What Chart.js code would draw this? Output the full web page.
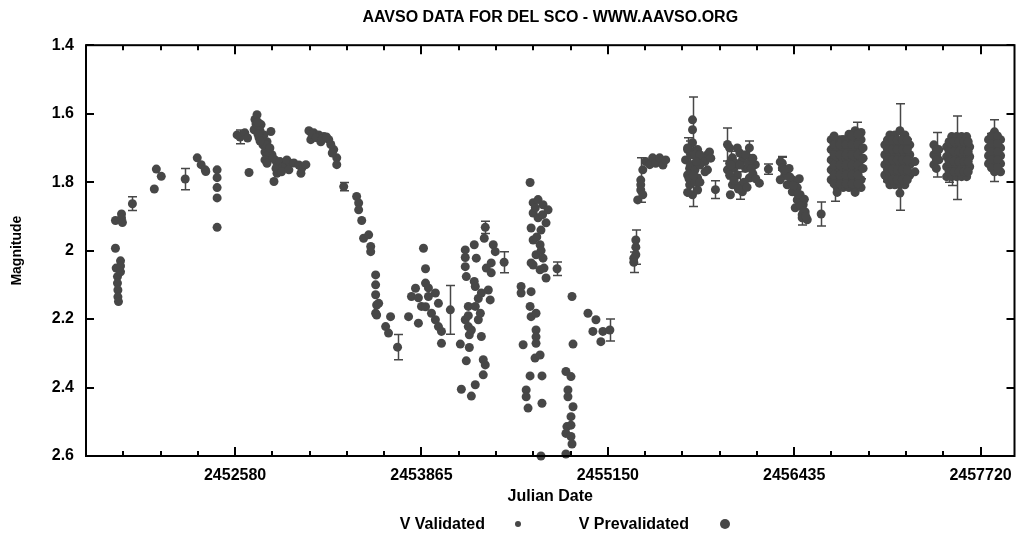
<!DOCTYPE html>
<html>
<head>
<meta charset="utf-8">
<title>AAVSO data for Del Sco</title>
<script src="https://cdn.jsdelivr.net/npm/chart.js@4.4.1/dist/chart.umd.min.js"></script>
<style>
  body { margin: 0; background: #fff; }
  #wrap { position: relative; width: 1019px; height: 534px; font: bold 16px "Liberation Sans", Arial, sans-serif; }
  .lbl { position: absolute; top: 514px; line-height: 20px; white-space: nowrap; }
  .dot { position: absolute; border-radius: 50%; background: #474747; }
</style>
</head>
<body>
<div id="wrap">
  <canvas id="chart" width="1019" height="534"></canvas>
  <span class="lbl" style="right:534px">V Validated</span>
  <div class="dot" style="left:515px;top:521px;width:6px;height:6px"></div>
  <span class="lbl" style="right:330px">V Prevalidated</span>
  <div class="dot" style="left:720px;top:519px;width:10px;height:10px"></div>
</div>
<script>
// Axis ticks
const xTicks = [2452580, 2453865, 2455150, 2456435, 2457720];
const yTicks = [1.4, 1.6, 1.8, 2, 2.2, 2.4, 2.6];
const X_MIN = 2451552, X_MAX = 2457954;
const X_MINOR_STEP = 257;
const POINT_COLOR = '#474747';

// Observations: [julian date, magnitude, error bar (optional)]
const validatedObs = [
  [2451755, 1.993], [2451755, 1.912], [2451760, 2.051], [2451769, 2.076], [2451769, 2.095], [2451772, 2.115],
  [2451772, 2.135], [2451776, 2.149], [2451790, 2.030], [2451790, 2.045], [2451790, 2.062], [2451797, 1.893],
  [2451797, 1.905], [2451803, 1.918], [2451872, 1.863, 0.02],
  [2452023, 1.820], [2452037, 1.762], [2452071, 1.783], [2452236, 1.791, 0.031],
  [2452319, 1.729], [2452346, 1.749], [2452374, 1.764], [2452378, 1.769],
  [2452456, 1.764], [2452456, 1.787], [2452456, 1.816], [2452456, 1.846], [2452456, 1.932],
  [2452594, 1.662], [2452614, 1.668, 0.02], [2452647, 1.656], [2452666, 1.671], [2452676, 1.772],
  [2452711, 1.647], [2452717, 1.617], [2452731, 1.603], [2452745, 1.670], [2452759, 1.632], [2452772, 1.691],
  [2452779, 1.662], [2452786, 1.712], [2452800, 1.682], [2452814, 1.705], [2452827, 1.652], [2452834, 1.720],
  [2452848, 1.798], [2452855, 1.735], [2452869, 1.744], [2452869, 1.774],
  [2452724, 1.630], [2452738, 1.625], [2452752, 1.650], [2452765, 1.675], [2452790, 1.690], [2452807, 1.720],
  [2452820, 1.700], [2452841, 1.730], [2452862, 1.760], [2452738, 1.660], [2452752, 1.680], [2452786, 1.735],
  [2452800, 1.745],
  [2452890, 1.740], [2452910, 1.755], [2452930, 1.750], [2452960, 1.745], [2452900, 1.770],
  [2452937, 1.735], [2452951, 1.764], [2452985, 1.744], [2453020, 1.750], [2453034, 1.774], [2453040, 1.759],
  [2453068, 1.749], [2453089, 1.650], [2453102, 1.676], [2453123, 1.656], [2453157, 1.662], [2453171, 1.682],
  [2453192, 1.667], [2453226, 1.676], [2453260, 1.705], [2453281, 1.729], [2453281, 1.749],
  [2453110, 1.660], [2453140, 1.670], [2453180, 1.675], [2453210, 1.668], [2453240, 1.690], [2453250, 1.715],
  [2453329, 1.813, 0.012], [2453418, 1.842], [2453432, 1.861], [2453432, 1.881], [2453453, 1.912],
  [2453466, 1.964], [2453501, 1.954], [2453515, 1.988], [2453515, 2.003],
  [2453549, 2.071], [2453549, 2.100], [2453549, 2.129], [2453549, 2.183], [2453556, 2.159], [2453556, 2.188],
  [2453570, 2.154], [2453618, 2.222], [2453638, 2.241], [2453652, 2.193], [2453700, 2.282, 0.037], [2453776, 2.193],
  [2453796, 2.134], [2453824, 2.110], [2453844, 2.138], [2453844, 2.212], [2453865, 2.163], [2453879, 1.993],
  [2453893, 2.053], [2453893, 2.095], [2453893, 2.164], [2453913, 2.109], [2453913, 2.134], [2453934, 2.183],
  [2453961, 2.124], [2453961, 2.202], [2453982, 2.154], [2453982, 2.222], [2454003, 2.236], [2454003, 2.271],
  [2454064, 2.173, 0.071],
  [2454133, 2.273], [2454140, 2.405], [2454167, 1.998], [2454167, 2.020], [2454167, 2.047], [2454167, 2.202],
  [2454174, 2.076], [2454174, 2.322], [2454188, 2.163], [2454188, 2.190], [2454188, 2.222], [2454195, 2.246],
  [2454195, 2.283], [2454209, 2.232], [2454209, 2.425], [2454229, 1.983], [2454229, 2.090], [2454236, 2.105],
  [2454236, 2.163], [2454236, 2.392], [2454243, 2.022], [2454257, 2.140], [2454257, 2.202], [2454271, 2.183],
  [2454278, 2.124], [2454278, 2.251], [2454291, 2.319], [2454291, 2.363], [2454298, 1.964], [2454305, 1.932, 0.018],
  [2454305, 2.334], [2454312, 2.051], [2454326, 2.115], [2454339, 2.144], [2454346, 2.036], [2454346, 2.065],
  [2454360, 1.983], [2454374, 2.003], [2454435, 2.034, 0.031],
  [2454552, 2.105], [2454552, 2.124], [2454566, 2.275], [2454587, 2.407], [2454587, 2.427], [2454600, 2.460],
  [2454614, 1.801], [2454614, 2.163], [2454614, 2.366], [2454621, 1.934], [2454621, 2.036], [2454621, 2.120],
  [2454621, 2.193], [2454635, 1.860], [2454635, 1.890], [2454635, 1.969], [2454635, 2.042], [2454648, 2.314],
  [2454650, 1.875], [2454655, 2.012], [2454655, 2.183], [2454655, 2.232], [2454655, 2.252], [2454655, 2.271],
  [2454660, 1.960], [2454669, 1.851], [2454669, 1.904], [2454683, 1.983], [2454683, 2.056], [2454683, 2.305],
  [2454689, 1.940], [2454689, 2.600], [2454690, 2.000], [2454696, 2.366], [2454696, 2.446], [2454700, 1.895],
  [2454703, 1.866], [2454703, 2.022], [2454710, 2.051], [2454724, 1.919], [2454724, 2.080], [2454738, 1.881],
  [2454800, 2.053, 0.02],
  [2454861, 2.353], [2454861, 2.534], [2454861, 2.594], [2454868, 2.514], [2454875, 2.407], [2454875, 2.427],
  [2454896, 2.368], [2454896, 2.485], [2454896, 2.510], [2454896, 2.543], [2454903, 2.134], [2454903, 2.565],
  [2454910, 2.273], [2454910, 2.456],
  [2455013, 2.183], [2455047, 2.236], [2455068, 2.202], [2455102, 2.266], [2455116, 2.236], [2455164, 2.232, 0.032],
  [2455329, 2.022], [2455329, 2.034, 0.03], [2455343, 1.969], [2455343, 1.990, 0.05], [2455343, 2.012],
  [2455356, 1.852], [2455377, 1.794, 0.065], [2455377, 1.808], [2455377, 1.823], [2455391, 1.764], [2455391, 1.837],
  [2455411, 1.740], [2455439, 1.749], [2455459, 1.729], [2455480, 1.745], [2455507, 1.729], [2455530, 1.750],
  [2455549, 1.735],
  [2455686, 1.735], [2455700, 1.705], [2455700, 1.779], [2455714, 1.760, 0.08], [2455714, 1.808], [2455734, 1.618],
  [2455734, 1.647], [2455734, 1.685], [2455734, 1.711, 0.16], [2455734, 1.749], [2455734, 1.837], [2455769, 1.705],
  [2455769, 1.788], [2455769, 1.823], [2455803, 1.735], [2455837, 1.720], [2455837, 1.764], [2455851, 1.712],
  [2455720, 1.720], [2455750, 1.720], [2455785, 1.720], [2455820, 1.740], [2455720, 1.750], [2455750, 1.765],
  [2455785, 1.750], [2455820, 1.770], [2455710, 1.790], [2455750, 1.800], [2455785, 1.800], [2455740, 1.780],
  [2455860, 1.730], [2455700, 1.830], [2455760, 1.740, 0.04], [2455700, 1.700, 0.03],
  [2455892, 1.822, 0.026],
  [2455975, 1.690, 0.048], [2455975, 1.764], [2455995, 1.837], [2456009, 1.729], [2456009, 1.808], [2456020, 1.760],
  [2456043, 1.700], [2456043, 1.779], [2456064, 1.810, 0.04], [2456078, 1.735], [2456078, 1.828], [2456100, 1.760],
  [2456126, 1.700, 0.02], [2456126, 1.788], [2456150, 1.775], [2456167, 1.749], [2456195, 1.803],
  [2455990, 1.700], [2456060, 1.715], [2456100, 1.720], [2456030, 1.745], [2456060, 1.750], [2456120, 1.745],
  [2456150, 1.730], [2455990, 1.780], [2456020, 1.795], [2456090, 1.800], [2456170, 1.790], [2455990, 1.745],
  [2456050, 1.820], [2456110, 1.815], [2456000, 1.750, 0.04], [2456140, 1.760, 0.03],
  [2456257, 1.762, 0.015]
];

const prevalidatedObs = [
  [2456339, 1.741], [2456339, 1.793], [2456353, 1.745, 0.02], [2456353, 1.759, 0.032], [2456370, 1.780],
  [2456387, 1.779], [2456387, 1.808], [2456400, 1.760], [2456422, 1.793], [2456422, 1.828], [2456440, 1.800],
  [2456442, 1.875], [2456456, 1.816], [2456456, 1.852], [2456470, 1.860], [2456476, 1.837], [2456490, 1.895, 0.03],
  [2456490, 1.904], [2456497, 1.866], [2456505, 1.850], [2456511, 1.887], [2456525, 1.910],
  [2456365, 1.765], [2456405, 1.785], [2456430, 1.810], [2456460, 1.835], [2456480, 1.870], [2456500, 1.885],
  [2456515, 1.900], [2456470, 1.790],
  [2456621, 1.893, 0.035],
  [2456690, 1.676], [2456690, 1.705], [2456690, 1.735], [2456690, 1.764], [2456690, 1.793],
  [2456718, 1.790, 0.066],
  [2456731, 1.676], [2456731, 1.705], [2456731, 1.735], [2456731, 1.764], [2456731, 1.793], [2456731, 1.816], [2456731, 1.830],
  [2456772, 1.676], [2456772, 1.700, 0.035], [2456772, 1.735], [2456772, 1.764], [2456772, 1.793], [2456772, 1.816],
  [2456806, 1.780, 0.04],
  [2456813, 1.660], [2456813, 1.676], [2456813, 1.705], [2456813, 1.735], [2456813, 1.764], [2456813, 1.793], [2456813, 1.816],
  [2456855, 1.650], [2456855, 1.676], [2456855, 1.705], [2456855, 1.735], [2456855, 1.764], [2456855, 1.793],
  [2456855, 1.816], [2456855, 1.830], [2456868, 1.670, 0.045],
  [2456896, 1.655], [2456896, 1.676], [2456896, 1.705], [2456896, 1.735], [2456896, 1.760, 0.03], [2456896, 1.793], [2456896, 1.816],
  [2456710, 1.665], [2456710, 1.690], [2456710, 1.720], [2456710, 1.750], [2456710, 1.779], [2456710, 1.805],
  [2456752, 1.690], [2456752, 1.720, 0.03], [2456752, 1.750], [2456752, 1.779], [2456752, 1.805],
  [2456793, 1.690], [2456793, 1.720], [2456793, 1.750], [2456793, 1.779], [2456793, 1.805],
  [2456834, 1.665], [2456834, 1.690], [2456834, 1.720], [2456834, 1.750, 0.04], [2456834, 1.779], [2456834, 1.805],
  [2456875, 1.660], [2456875, 1.690, 0.03], [2456875, 1.720], [2456875, 1.750], [2456875, 1.779], [2456875, 1.805],
  [2456910, 1.700], [2456910, 1.730], [2456910, 1.760],
  [2457060, 1.691], [2457060, 1.720], [2457060, 1.749], [2457060, 1.779],
  [2457095, 1.662], [2457095, 1.691], [2457095, 1.720], [2457095, 1.749], [2457095, 1.779], [2457095, 1.808],
  [2457129, 1.662], [2457129, 1.691], [2457129, 1.720], [2457129, 1.749], [2457129, 1.779], [2457129, 1.808],
  [2457164, 1.650], [2457164, 1.691, 0.12], [2457164, 1.720], [2457164, 1.749], [2457164, 1.779], [2457164, 1.808],
  [2457164, 1.832, 0.05],
  [2457198, 1.662], [2457198, 1.691], [2457198, 1.720], [2457198, 1.749], [2457198, 1.779], [2457198, 1.808],
  [2457232, 1.691], [2457232, 1.720], [2457232, 1.749], [2457232, 1.779], [2457267, 1.740], [2457267, 1.770],
  [2457078, 1.677], [2457078, 1.705], [2457078, 1.735], [2457078, 1.764, 0.035], [2457078, 1.793],
  [2457112, 1.677], [2457112, 1.705], [2457112, 1.735, 0.04], [2457112, 1.764], [2457112, 1.793],
  [2457146, 1.677], [2457146, 1.705], [2457146, 1.735], [2457146, 1.764], [2457146, 1.793],
  [2457181, 1.677], [2457181, 1.705], [2457181, 1.735], [2457181, 1.764], [2457181, 1.793],
  [2457215, 1.677], [2457215, 1.705, 0.03], [2457215, 1.735], [2457215, 1.764], [2457215, 1.793],
  [2457398, 1.691], [2457398, 1.720], [2457398, 1.749], [2457418, 1.720, 0.065], [2457432, 1.705], [2457432, 1.735],
  [2457415, 1.705], [2457415, 1.735], [2457415, 1.760],
  [2457486, 1.697], [2457486, 1.726], [2457486, 1.755], [2457486, 1.784],
  [2457521, 1.667], [2457521, 1.697], [2457521, 1.726], [2457521, 1.750, 0.06], [2457521, 1.784],
  [2457555, 1.667], [2457555, 1.697], [2457555, 1.729, 0.122], [2457555, 1.755], [2457555, 1.784],
  [2457589, 1.667], [2457589, 1.697], [2457589, 1.726], [2457589, 1.755], [2457589, 1.784], [2457600, 1.720, 0.05],
  [2457624, 1.667], [2457624, 1.697], [2457624, 1.726], [2457624, 1.755], [2457624, 1.784],
  [2457645, 1.697], [2457645, 1.726], [2457645, 1.755],
  [2457503, 1.682], [2457503, 1.711], [2457503, 1.740], [2457503, 1.770, 0.03],
  [2457538, 1.682], [2457538, 1.711, 0.04], [2457538, 1.740], [2457538, 1.770],
  [2457572, 1.682], [2457572, 1.711], [2457572, 1.740], [2457572, 1.770],
  [2457606, 1.682], [2457606, 1.711], [2457606, 1.740, 0.035], [2457606, 1.770],
  [2457635, 1.682], [2457635, 1.711], [2457635, 1.740], [2457635, 1.770],
  [2457775, 1.676], [2457775, 1.700], [2457775, 1.723], [2457775, 1.746],
  [2457816, 1.653], [2457816, 1.676], [2457816, 1.708, 0.09], [2457816, 1.723], [2457816, 1.746], [2457816, 1.770],
  [2457858, 1.676], [2457858, 1.700], [2457858, 1.723], [2457858, 1.746], [2457858, 1.770],
  [2457795, 1.665], [2457795, 1.688, 0.03], [2457795, 1.712], [2457795, 1.735], [2457795, 1.758],
  [2457837, 1.665], [2457837, 1.688], [2457837, 1.712], [2457837, 1.735, 0.03], [2457837, 1.758]
];

const FONT = { family: '"Liberation Sans", Arial, sans-serif', size: 16, weight: 'bold' };

function makeDataset(label, obs) {
  return {
    label: label,
    data: obs.map(o => ({ x: o[0], y: o[1] })),
    errors: obs.map(o => o[2] || 0),
    pointRadius: 4.5,
    pointHoverRadius: 4.5,
    pointBorderWidth: 0,
    backgroundColor: POINT_COLOR,
    borderColor: POINT_COLOR,
    showLine: false,
    clip: false
  };
}

// error bars with caps, drawn behind the points
const errorBars = {
  id: 'errorBars',
  beforeDatasetsDraw(chart) {
    const { ctx, scales: { y } } = chart;
    ctx.save();
    ctx.strokeStyle = POINT_COLOR;
    ctx.lineWidth = 1.5;
    chart.data.datasets.forEach((ds, di) => {
      const meta = chart.getDatasetMeta(di);
      ds.errors.forEach((e, i) => {
        if (!e) return;
        const px = Math.round(meta.data[i].x) + 0.5;
        const top = y.getPixelForValue(ds.data[i].y - e);
        const bot = y.getPixelForValue(ds.data[i].y + e);
        ctx.beginPath();
        ctx.moveTo(px, top); ctx.lineTo(px, bot);
        ctx.moveTo(px - 4.5, top); ctx.lineTo(px + 4.5, top);
        ctx.moveTo(px - 4.5, bot); ctx.lineTo(px + 4.5, bot);
        ctx.stroke();
      });
    });
    ctx.restore();
  }
};

// gnuplot style box with inward tick marks
const frame = {
  id: 'frame',
  afterDraw(chart) {
    const { ctx, chartArea: a, scales: { x, y } } = chart;
    ctx.save();
    ctx.strokeStyle = '#000';
    ctx.lineWidth = 2;
    ctx.strokeRect(a.left, a.top, a.right - a.left, a.bottom - a.top);
    ctx.beginPath();
    const first = xTicks[0] - Math.floor((xTicks[0] - x.min) / X_MINOR_STEP) * X_MINOR_STEP;
    for (let v = first; v <= x.max; v += X_MINOR_STEP) {
      const px = Math.round(x.getPixelForValue(v));
      const major = Math.abs((v - xTicks[0]) % (X_MINOR_STEP * 5)) < 1;
      const len = major ? 9 : 5;
      ctx.moveTo(px, a.bottom); ctx.lineTo(px, a.bottom - len);
      ctx.moveTo(px, a.top); ctx.lineTo(px, a.top + len);
    }
    yTicks.forEach(v => {
      const py = Math.round(y.getPixelForValue(v));
      ctx.moveTo(a.left, py); ctx.lineTo(a.left + 8, py);
      ctx.moveTo(a.right, py); ctx.lineTo(a.right - 8, py);
    });
    ctx.stroke();
    ctx.restore();
  }
};

new Chart(document.getElementById('chart'), {
  type: 'scatter',
  data: {
    datasets: [
      makeDataset('V Validated', validatedObs),
      makeDataset('V Prevalidated', prevalidatedObs)
    ]
  },
  options: {
    responsive: false,
    animation: false,
    events: [],
    layout: { padding: { left: 0, right: 1, top: 0, bottom: 22 } },
    plugins: {
      legend: { display: false },
      tooltip: { enabled: false },
      title: {
        display: true,
        fullSize: false,
        text: 'AAVSO DATA FOR DEL SCO - WWW.AAVSO.ORG',
        color: '#000',
        font: FONT,
        padding: { top: 8, bottom: 18 }
      }
    },
    scales: {
      x: {
        type: 'linear',
        min: X_MIN,
        max: X_MAX,
        grid: { display: false, drawTicks: true, tickLength: 8 },
        border: { display: false },
        afterBuildTicks: s => { s.ticks = xTicks.map(v => ({ value: v })); },
        afterFit: s => { s.height = 56; },
        ticks: { color: '#000', font: FONT, padding: 2, maxRotation: 0, callback: v => String(v) },
        title: { display: true, text: 'Julian Date', color: '#000', font: FONT, padding: { top: 0, bottom: 6 } }
      },
      y: {
        type: 'linear',
        reverse: true,
        min: 1.4,
        max: 2.6,
        grid: { display: false, drawTicks: true, tickLength: 8 },
        border: { display: false },
        afterBuildTicks: s => { s.ticks = yTicks.map(v => ({ value: v })); },
        afterFit: s => { s.width = 86; },
        ticks: { color: '#000', font: FONT, padding: 4, callback: v => String(v) },
        title: { display: true, text: 'Magnitude', color: '#000', font: { family: FONT.family, size: 14, weight: 'bold' }, padding: { top: 9, bottom: 0 } }
      }
    }
  },
  plugins: [errorBars, frame]
});
</script>
</body>
</html>
